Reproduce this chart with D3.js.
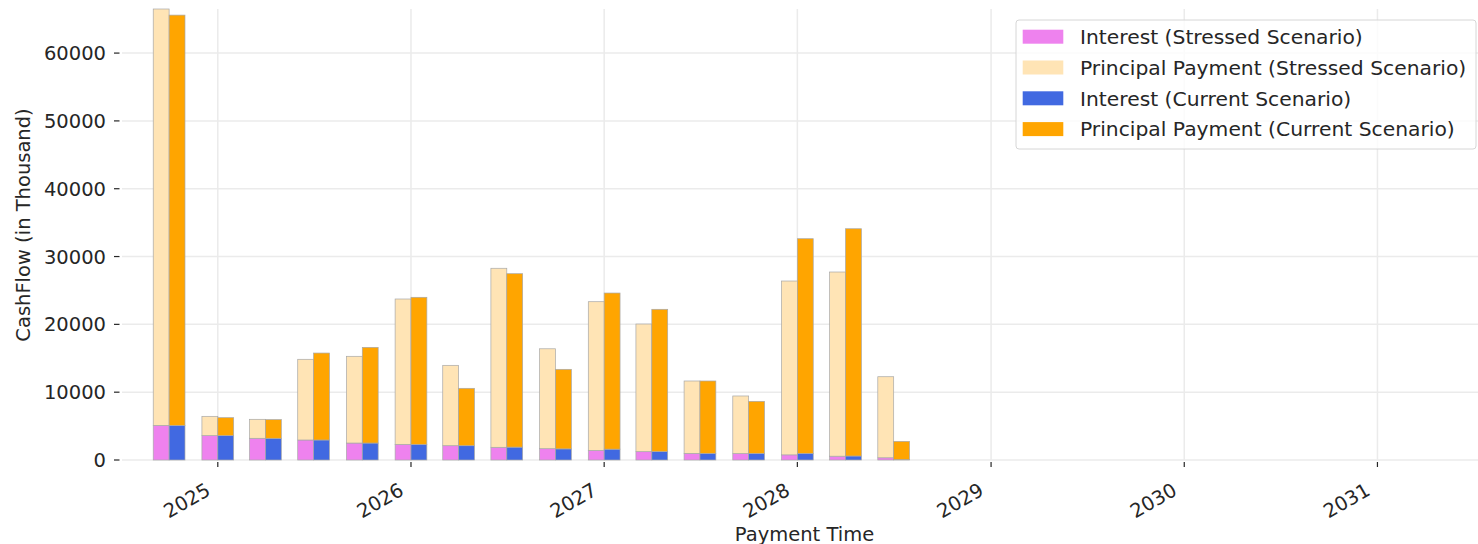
<!DOCTYPE html>
<html lang="en">
<head>
  <meta charset="utf-8">
  <title>Cashflow</title>
  <script src="https://cdn.jsdelivr.net/npm/d3@7"></script>
  <style>
    body { margin: 0; background: #fff; }
    svg { display: block; font-family: "DejaVu Sans", sans-serif; }
    .tick-label { font-size: 19.5px; fill: #262626; }
    .axis-label { font-size: 19.5px; fill: #262626; }
    .legend-text { font-size: 20.3px; fill: #262626; }
  </style>
</head>
<body>
<svg id="chart" width="1478" height="544"></svg>
<script>
// payment dates (quarterly)
var paymentDates = ["2024-10-01", "2025-01-01", "2025-04-01", "2025-07-01", "2025-10-01",
  "2026-01-01", "2026-04-01", "2026-07-01", "2026-10-01", "2027-01-01", "2027-04-01",
  "2027-07-01", "2027-10-01", "2028-01-01", "2028-04-01", "2028-07-01"];

// values in thousand
var stressedInterest  = [5100, 3590, 3200, 2950, 2500, 2310, 2110, 1870, 1670, 1420, 1230, 980, 950, 760, 560, 330];
var stressedPrincipal = [61400, 2850, 2800, 11900, 12790, 21430, 11850, 26400, 14730, 21920, 18820, 10670, 8490, 25630, 27160, 11950];
var currentInterest   = [5100, 3590, 3200, 2950, 2500, 2310, 2110, 1900, 1640, 1600, 1230, 980, 980, 980, 590, 60];
var currentPrincipal  = [60500, 2650, 2750, 12820, 14110, 21680, 8460, 25570, 11730, 23020, 20990, 10670, 7670, 31650, 33510, 2690];

var yTicks = [0, 10000, 20000, 30000, 40000, 50000, 60000];
var xTickYears = [2025, 2026, 2027, 2028, 2029, 2030, 2031];

var legendLabels = ["Interest (Stressed Scenario)", "Principal Payment (Stressed Scenario)",
  "Interest (Current Scenario)", "Principal Payment (Current Scenario)"];
var legendColors = ["#EE82EE", "#FFE4B5", "#4169E1", "#FFA500"];

var svg = d3.select("#chart"),
    margin = {top: 9, left: 122, right: 1487, bottom: 460};

var x = d3.scaleUtc()
    .domain([new Date(Date.UTC(2024, 6, 4)), new Date(Date.UTC(2031, 6, 27))])
    .range([margin.left, margin.right]);

var y = d3.scaleLinear()
    .domain([0, 66500])
    .range([margin.bottom, margin.top]);

var DAY = 86400000, barDays = 30;

var rows = paymentDates.map(function(s, i) {
  return {
    date: new Date(s + "T00:00:00Z"),
    si: stressedInterest[i], sp: stressedPrincipal[i],
    ci: currentInterest[i], cp: currentPrincipal[i]
  };
});

// grid
var grid = svg.append("g");
grid.selectAll(".hgrid").data(yTicks).enter().append("line")
    .attr("x1", margin.left).attr("x2", margin.right)
    .attr("y1", d => y(d)).attr("y2", d => y(d))
    .attr("stroke", "#ebebeb").attr("stroke-width", 1.5);
grid.selectAll(".vgrid").data(xTickYears).enter().append("line")
    .attr("x1", d => x(new Date(Date.UTC(d, 0, 1)))).attr("x2", d => x(new Date(Date.UTC(d, 0, 1))))
    .attr("y1", margin.top).attr("y2", margin.bottom)
    .attr("stroke", "#ebebeb").attr("stroke-width", 1.5);

// bars
var bars = svg.append("g")
    .attr("stroke", "#a8a8a8").attr("stroke-width", 0.7);

function drawStack(key0, key1, c0, c1, offsetStart, offsetEnd) {
  bars.selectAll(null).data(rows).enter().append("rect")
      .attr("x", d => x(new Date(+d.date + offsetStart * DAY)))
      .attr("width", d => x(new Date(+d.date + offsetEnd * DAY)) - x(new Date(+d.date + offsetStart * DAY)))
      .attr("y", d => y(d[key0]))
      .attr("height", d => y(0) - y(d[key0]))
      .attr("fill", c0);
  bars.selectAll(null).data(rows).enter().append("rect")
      .attr("x", d => x(new Date(+d.date + offsetStart * DAY)))
      .attr("width", d => x(new Date(+d.date + offsetEnd * DAY)) - x(new Date(+d.date + offsetStart * DAY)))
      .attr("y", d => y(d[key0] + d[key1]))
      .attr("height", d => y(d[key0]) - y(d[key0] + d[key1]))
      .attr("fill", c1);
}
drawStack("si", "sp", legendColors[0], legendColors[1], -barDays, 0);
drawStack("ci", "cp", legendColors[2], legendColors[3], 0, barDays);

// y axis (ticks + labels, no spine)
var yAxis = svg.append("g");
yAxis.selectAll("line").data(yTicks).enter().append("line")
    .attr("x1", 114).attr("x2", 119.5)
    .attr("y1", d => y(d)).attr("y2", d => y(d))
    .attr("stroke", "#262626").attr("stroke-width", 1.2);
yAxis.selectAll("text").data(yTicks).enter().append("text")
    .attr("class", "tick-label")
    .attr("x", 106).attr("y", d => y(d)).attr("dy", "0.36em")
    .attr("text-anchor", "end")
    .text(d => d);

// x axis
var xAxis = svg.append("g");
xAxis.selectAll("line").data(xTickYears).enter().append("line")
    .attr("x1", d => x(new Date(Date.UTC(d, 0, 1)))).attr("x2", d => x(new Date(Date.UTC(d, 0, 1))))
    .attr("y1", 462).attr("y2", 467)
    .attr("stroke", "#262626").attr("stroke-width", 1.2);
xAxis.selectAll("text").data(xTickYears).enter().append("text")
    .attr("class", "tick-label")
    .attr("text-anchor", "end")
    .attr("transform", d => "translate(" + (x(new Date(Date.UTC(d, 0, 1))) - 6) + ",494) rotate(-30)")
    .text(d => d);

svg.append("text").attr("class", "axis-label")
    .attr("x", (margin.left + margin.right) / 2).attr("y", 540.5)
    .attr("text-anchor", "middle")
    .text("Payment Time");

svg.append("text").attr("class", "axis-label")
    .attr("transform", "translate(29.5,225) rotate(-90)")
    .attr("text-anchor", "middle")
    .text("CashFlow (in Thousand)");

// legend
var legend = svg.append("g");
legend.append("rect")
    .attr("x", 1016).attr("y", 20).attr("width", 460).attr("height", 129)
    .attr("rx", 3)
    .attr("fill", "#fff").attr("fill-opacity", 0.8)
    .attr("stroke", "#d6d6d6").attr("stroke-width", 1);
var items = legend.selectAll(".item").data(legendLabels).enter().append("g")
    .attr("transform", (d, i) => "translate(0," + (36.7 + i * 30.8) + ")");
items.append("rect")
    .attr("x", 1022.7).attr("y", -7).attr("width", 40.6).attr("height", 14)
    .attr("fill", (d, i) => legendColors[i]);
items.append("text").attr("class", "legend-text")
    .attr("x", 1080).attr("dy", "0.36em")
    .text(d => d);
</script>
</body>
</html>
